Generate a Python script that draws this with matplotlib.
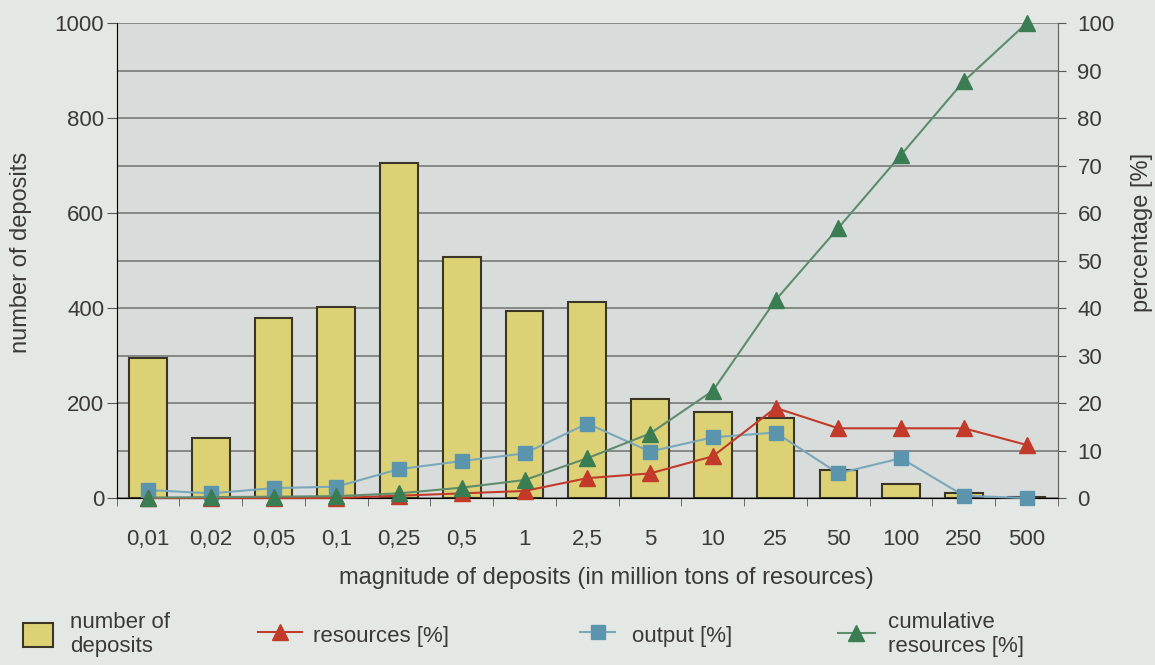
import numpy as np
import matplotlib
matplotlib.use('Agg')
import matplotlib.pyplot as plt
from matplotlib.lines import Line2D
from matplotlib.patches import Patch

# categories: magnitude of deposits (million tons)
categories = ['0,01', '0,02', '0,05', '0,1', '0,25', '0,5', '1', '2,5', '5',
              '10', '25', '50', '100', '250', '500']
# number of deposits (left axis)
n_deposits = [295, 126, 379, 402, 705, 507, 394, 413, 208, 181, 168, 59, 29, 11, 3]
# percentages (right axis)
resources = [0, 0, 0, 0, 0.5, 1.0, 1.5, 4.2, 5.2, 8.8, 19.0, 14.7, 14.7, 14.7, 11.2]
output = [1.7, 1.0, 2.1, 2.4, 6.1, 7.8, 9.4, 15.7, 9.8, 12.8, 13.8, 5.2, 8.4, 0.5, 0.0]
cumulative = [0.1, 0.2, 0.3, 0.4, 1.0, 2.2, 3.8, 8.4, 13.6, 22.6, 41.7, 56.9, 72.3, 87.8, 100]

plt.rcParams['font.family'] = ['Liberation Sans', 'DejaVu Sans']

fig_bg = '#e4e8e4'
ax_bg = '#d8dcda'
bar_col = '#dcd275'
bar_edge = '#3a3524'
red = '#c23a2a'
blue = '#5a95ad'
blue_line = '#7aa8bb'
green = '#3b7d52'
green_line = '#5e8c6c'
txt = '#3a3a3a'
tick_fs = 16
title_fs = 17

fig = plt.figure(figsize=(11.55, 6.65), dpi=100, facecolor=fig_bg)
ax = fig.add_axes([0.101, 0.251, 0.815, 0.714])
ax.set_facecolor(ax_bg)
x = np.arange(len(categories))

ax.bar(x, n_deposits, width=0.6, color=bar_col, edgecolor=bar_edge, linewidth=1.5, zorder=3)
ax.set_xlim(-0.5, len(categories) - 0.5)
ax.set_ylim(0, 1000)
ax.set_yticks(np.arange(0, 1001, 200))
ax.set_yticks(np.arange(0, 1001, 100), minor=True)
ax.grid(axis='y', which='both', color='#707270', linewidth=1.1, zorder=1)
ax.tick_params(axis='y', which='minor', length=0)
ax.tick_params(axis='y', which='major', length=7, labelsize=tick_fs, color='#555555',
               pad=2, labelcolor=txt)
ax.set_xticks(x)
ax.set_xticklabels(categories)
ax.set_xticks(np.arange(-0.5, len(categories), 1), minor=True)
ax.tick_params(axis='x', which='major', length=0, labelsize=tick_fs, pad=22, labelcolor=txt)
ax.tick_params(axis='x', which='minor', length=6, color='#555555')
ax.set_xlabel('magnitude of deposits (in million tons of resources)', fontsize=title_fs,
              color=txt, labelpad=12)
ax.xaxis.set_label_coords(0.52, -0.145)
ax.set_ylabel('number of deposits', fontsize=title_fs, color=txt, va='center')
ax.yaxis.set_label_coords(-0.102, 0.518)
ax.spines['top'].set_visible(False)
for s in ['left', 'right', 'bottom']:
    ax.spines[s].set_color('#666666')

ax2 = ax.twinx()
ax2.set_ylim(0, 100)
ax2.set_yticks(np.arange(0, 101, 10))
ax2.tick_params(axis='y', length=6, labelsize=tick_fs, color='#555555', pad=8, labelcolor=txt)
ax2.spines['top'].set_visible(False)
ax2.spines['right'].set_color('#666666')
ax2.set_ylabel('percentage [%]', fontsize=title_fs, color=txt)
ax2.yaxis.label.set_va('center')
ax2.yaxis.set_label_coords(1.089, 0.56)

ax2.plot(x, output, color=blue_line, linewidth=1.5, marker='s', markersize=10,
         markerfacecolor=blue, markeredgecolor=blue, zorder=4, clip_on=False)
ax2.plot(x, resources, color=red, linewidth=1.5, marker='^', markersize=11,
         markerfacecolor=red, markeredgecolor=red, zorder=5, clip_on=False)
ax2.plot(x, cumulative, color=green_line, linewidth=1.5, marker='^', markersize=11,
         markerfacecolor=green, markeredgecolor=green, zorder=6, clip_on=False)

# legend along the bottom, one entry at a time so the gaps match
items = [
    (Patch(facecolor=bar_col, edgecolor=bar_edge, linewidth=1.5), 'number of\ndeposits',
     0.020, 1.35, 0.75),
    (Line2D([], [], color=red, marker='^', markersize=11, linewidth=1.5),
     'resources [%]', 0.223, 2.0, 0.5),
    (Line2D([], [], color=blue_line, marker='s', markersize=10, markerfacecolor=blue,
            markeredgecolor=blue, linewidth=1.5), 'output [%]', 0.502, 1.6, 0.75),
    (Line2D([], [], color=green_line, marker='^', markersize=11, markerfacecolor=green,
            markeredgecolor=green, linewidth=1.5), 'cumulative\nresources [%]', 0.7255, 1.65, 0.6),
]
for h, lbl, xpos, hl, tp in items:
    fig.legend([h], [lbl], loc='center left', bbox_to_anchor=(xpos, 0.046), frameon=False,
               fontsize=tick_fs, handlelength=hl, handleheight=1.25, handletextpad=tp,
               borderpad=0, borderaxespad=0, labelspacing=0.1, labelcolor=txt)

fig.savefig('out.png', dpi=100, facecolor=fig_bg)
